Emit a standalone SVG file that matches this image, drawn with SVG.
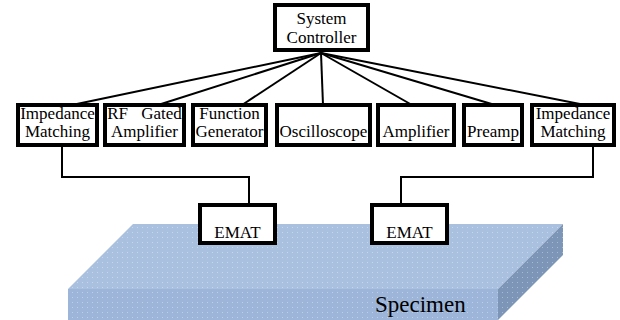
<svg xmlns="http://www.w3.org/2000/svg" width="620" height="320" viewBox="0 0 620 320" font-family="'Liberation Serif', Tinos, 'Times New Roman', Times, 'DejaVu Serif', serif">
<style>
.box{fill:#fff;stroke:#000;stroke-width:4}
.t{font-size:17px;fill:#000;text-anchor:middle}
.ln{fill:none;stroke:#000;stroke-width:2}
</style>
<defs>
<pattern id="dots" width="5" height="5" patternUnits="userSpaceOnUse">
<rect x="2" y="2" width="1" height="1" fill="#fff" fill-opacity="0.35"/>
</pattern>
</defs>
<rect width="620" height="320" fill="#fff"/>
<g id="specimen">
<polygon points="133,224 563,224 498,289 68,289" fill="#a9c0de"/>
<rect x="68" y="289" width="430" height="31" fill="#9cb5d9"/>
<polygon points="498,289 563,224 563,255 498,320" fill="#7d95b6"/>
<polygon points="133,224 563,224 563,255 498,320 68,320 68,289" fill="url(#dots)"/>
<text x="375" y="312" font-size="23" fill="#000">Specimen</text>
</g>
<g id="connectors">
<line class="ln" x1="321" y1="53" x2="72" y2="105"/>
<line class="ln" x1="321" y1="53" x2="158" y2="105"/>
<line class="ln" x1="321" y1="53" x2="242" y2="105"/>
<line class="ln" x1="321" y1="53" x2="323" y2="105"/>
<line class="ln" x1="321" y1="53" x2="412" y2="105"/>
<line class="ln" x1="321" y1="53" x2="495" y2="105"/>
<line class="ln" x1="321" y1="53" x2="585" y2="105"/>
<polyline class="ln" points="62,145 62,177 249,177 249,205"/>
<polyline class="ln" points="593,145 593,177 401,177 401,205"/>
</g>
<g id="controller">
<rect class="box" x="275" y="5" width="93" height="45"/>
<text class="t" x="321.5" y="24">System</text>
<text class="t" x="321.5" y="43">Controller</text>
</g>
<g id="impedance-left">
<rect class="box" x="18" y="105" width="79" height="40"/>
<text class="t" x="57.5" y="119">Impedance</text>
<text class="t" x="57.5" y="137">Matching</text>
</g>
<g id="rf-gated">
<rect class="box" x="105" y="105" width="79" height="40"/>
<text class="t" x="144.5" y="119" word-spacing="9">RF Gated</text>
<text class="t" x="144.5" y="137">Amplifier</text>
</g>
<g id="function-generator">
<rect class="box" x="193" y="105" width="73" height="40"/>
<text class="t" x="229.5" y="119">Function</text>
<text class="t" x="229.5" y="137">Generator</text>
</g>
<g id="oscilloscope">
<rect class="box" x="277" y="105" width="93" height="40"/>
<text class="t" x="323.5" y="137">Oscilloscope</text>
</g>
<g id="amplifier">
<rect class="box" x="378" y="105" width="76" height="40"/>
<text class="t" x="416" y="137">Amplifier</text>
</g>
<g id="preamp">
<rect class="box" x="464" y="105" width="58" height="40"/>
<text class="t" x="493" y="137">Preamp</text>
</g>
<g id="impedance-right">
<rect class="box" x="532" y="105" width="82" height="40"/>
<text class="t" x="573" y="119">Impedance</text>
<text class="t" x="573" y="137">Matching</text>
</g>
<g id="emat-left">
<rect class="box" x="200" y="205" width="75" height="38"/>
<text class="t" x="237.5" y="238">EMAT</text>
</g>
<g id="emat-right">
<rect class="box" x="372" y="205" width="75" height="38"/>
<text class="t" x="409.5" y="238">EMAT</text>
</g>
</svg>
